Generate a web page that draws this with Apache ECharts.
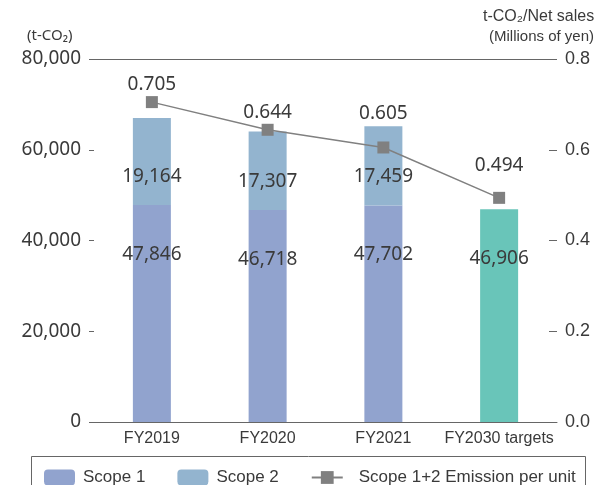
<!DOCTYPE html>
<html>
<head>
<meta charset="utf-8">
<script src="https://cdn.jsdelivr.net/npm/echarts@6/dist/echarts.min.js"></script>
<style>
  html, body { margin: 0; padding: 0; background: #fff; }
  #chart { width: 595px; height: 485px; }
</style>
</head>
<body>
<div id="chart"></div>
<script>
// Emissions by fiscal year (t-CO2) and emission intensity per net sales
const categories = ['FY2019', 'FY2020', 'FY2021', 'FY2030 targets'];
const scope1 = [47846, 46718, 47702, 46906];
const scope2 = [19164, 17307, 17459, null];
const intensity = [0.705, 0.644, 0.605, 0.494];
const leftTicks = [0, 20000, 40000, 60000, 80000];
const rightTicks = [0.0, 0.2, 0.4, 0.6, 0.8];

const COLOR_S1 = '#91a3ce';
const COLOR_S2 = '#93b4cf';
const COLOR_TARGET = '#69c5b9';
const COLOR_LINE = '#808080';
const AXIS = '#666666';
const TEXT = '#3a3a3a';
const NUM_FONT = '"Noto Sans", "Open Sans", sans-serif';
const SANS = '"Liberation Sans", Arial, sans-serif';

// Label gaps above the intensity markers (keeps text clear of the bars)
const intensityLabelGap = [2, 2, 18, 17];

const fmt = v => Number(v).toLocaleString('en-US');

const chart = echarts.init(document.getElementById('chart'), null, { renderer: 'canvas' });

chart.setOption({
  animation: false,
  backgroundColor: '#fff',
  grid: { left: 94, right: 38, top: 59, bottom: 63, containLabel: false },
  legend: {
    left: 44,
    top: 469,
    padding: 0,
    itemWidth: 31,
    itemHeight: 16,
    itemGap: 32,
    textStyle: { fontFamily: SANS, fontSize: 17, color: TEXT, padding: [0, 0, 0, 3] },
    data: [
      { name: 'Scope 1', itemStyle: { color: COLOR_S1 } },
      { name: 'Scope 2', itemStyle: { color: COLOR_S2 } },
      { name: 'Scope 1+2 Emission per unit', textStyle: { padding: [0, 0, 0, 11] } }
    ]
  },
  graphic: [
    {
      type: 'rect', silent: true,
      shape: { x: 31.5, y: 456.5, width: 554, height: 40 },
      style: { fill: 'none', stroke: AXIS, lineWidth: 1 }
    },
    {
      type: 'text', left: 27, top: 28,
      style: { text: '(t-CO\u2082)', fontFamily: NUM_FONT, fontSize: 15, fill: TEXT }
    },
    {
      type: 'text', left: 483, top: 9,
      style: { text: 't-CO\u2082/Net sales', fontFamily: SANS, fontSize: 16, fill: TEXT }
    },
    {
      type: 'text', left: 489, top: 29,
      style: { text: '(Millions of yen)', fontFamily: SANS, fontSize: 15, fill: TEXT }
    }
  ],
  xAxis: {
    type: 'category',
    data: categories,
    axisLine: { show: true, lineStyle: { color: AXIS, width: 1 } },
    axisTick: { show: false },
    axisLabel: { interval: 0, fontFamily: SANS, fontSize: 16, color: TEXT, margin: 9 }
  },
  yAxis: [
    {
      type: 'value',
      min: leftTicks[0],
      max: leftTicks[leftTicks.length - 1],
      interval: leftTicks[1] - leftTicks[0],
      axisLine: { show: false },
      axisTick: { show: true, length: 5, lineStyle: { color: AXIS } },
      splitLine: {
        show: true,
        lineStyle: { color: [AXIS, 'transparent', 'transparent', 'transparent', AXIS], width: 1 }
      },
      axisLabel: {
        fontFamily: NUM_FONT, fontSize: 19, color: TEXT, margin: 13,
        formatter: v => fmt(v)
      }
    },
    {
      type: 'value',
      min: rightTicks[0],
      max: rightTicks[rightTicks.length - 1],
      interval: 0.2,
      axisLine: { show: false },
      axisTick: { show: true, inside: true, length: 8, lineStyle: { color: AXIS } },
      splitLine: { show: false },
      axisLabel: {
        fontFamily: SANS, fontSize: 18, color: TEXT, margin: 8,
        formatter: v => v.toFixed(1)
      }
    }
  ],
  series: [
    {
      name: 'Scope 1',
      type: 'bar',
      stack: 'total',
      barWidth: 38,
      yAxisIndex: 0,
      itemStyle: { color: COLOR_S1 },
      data: scope1.map((v, i) => i === categories.length - 1
        ? { value: v, itemStyle: { color: COLOR_TARGET } }
        : v),
      label: {
        show: true,
        position: 'insideTop',
        distance: 40,
        fontFamily: NUM_FONT, fontSize: 19, color: TEXT,
        formatter: p => fmt(p.value)
      }
    },
    {
      name: 'Scope 2',
      type: 'bar',
      stack: 'total',
      barWidth: 38,
      yAxisIndex: 0,
      itemStyle: { color: COLOR_S2 },
      data: scope2,
      label: {
        show: true,
        position: 'insideBottom',
        distance: 19,
        fontFamily: NUM_FONT, fontSize: 19, color: TEXT,
        formatter: p => (p.value == null ? '' : fmt(p.value))
      }
    },
    {
      name: 'Scope 1+2 Emission per unit',
      type: 'line',
      yAxisIndex: 1,
      symbol: 'rect',
      symbolSize: 12,
      z: 5,
      itemStyle: { color: COLOR_LINE },
      lineStyle: { color: COLOR_LINE, width: 1.5 },
      data: intensity.map((v, i) => ({
        value: v,
        label: { distance: intensityLabelGap[i] }
      })),
      label: {
        show: true,
        position: 'top',
        fontFamily: NUM_FONT, fontSize: 19, color: TEXT,
        formatter: p => p.value.toFixed(3)
      }
    }
  ]
});
</script>
</body>
</html>
